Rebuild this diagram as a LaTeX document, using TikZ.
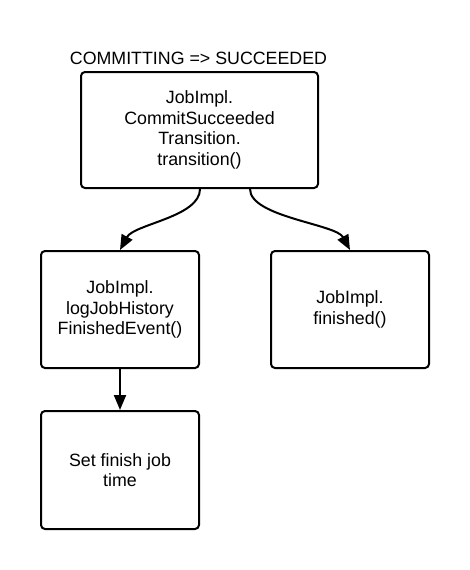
\documentclass[tikz,border=0pt]{standalone}
\usepackage{fontspec}
\setmainfont{Liberation Sans}
\usetikzlibrary{arrows.meta}
\tikzset{
  box/.style={draw=black, line width=2pt, rounded corners=4pt, rectangle, align=center,
    inner sep=0pt, font=\fontsize{17.8}{20.7}\selectfont},
  arr/.style={line width=2pt, -{Triangle[length=15pt,width=12pt]}},
}
\begin{document}
\begin{tikzpicture}[x=1pt,y=-1pt]
\useasboundingbox (0,0) rectangle (470,570);
\node[anchor=base, font=\fontsize{17.8}{20.7}\selectfont] (title) at (198.5,64) {COMMITTING => SUCCEEDED};
\node[box, minimum width=237pt, minimum height=116pt] (top) at (199.5,130)
  {JobImpl.\\CommitSucceeded\\Transition.\\transition()};
\node[box, minimum width=158pt, minimum height=117pt] (left) at (120,309.5)
  {JobImpl.\\logJobHistory\\FinishedEvent()};
\node[box, minimum width=158pt, minimum height=117pt] (right) at (350,309.5)
  {JobImpl.\\finished()};
\node[box, minimum width=158pt, minimum height=118pt] (bottom) at (120,470)
  {Set finish job\\time};
\draw[arr] ([xshift=0.5pt]top.south) .. controls +(0,28) and +(14,-26) .. (left.north);
\draw[arr] ([xshift=50.5pt]top.south) .. controls +(0,28) and +(-14,-26) .. (right.north);
\draw[arr] (left.south) -- (bottom.north);
\end{tikzpicture}
\end{document}
